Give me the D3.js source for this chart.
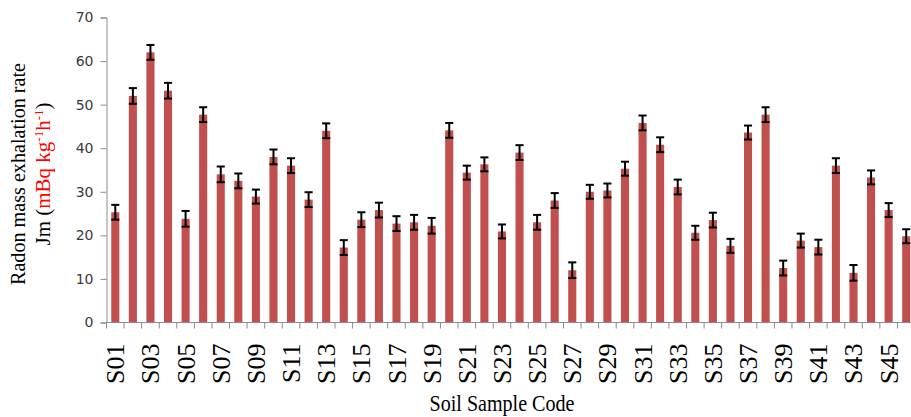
<!DOCTYPE html>
<html>
<head>
<meta charset="utf-8">
<script src="https://cdn.jsdelivr.net/npm/d3@7"></script>
<style>
  html, body { margin: 0; padding: 0; background: #fff; }
  svg { display: block; }
</style>
</head>
<body>
<svg id="chart" width="911" height="417"></svg>
<script>
// Soil sample codes S01..S46
const samples = ["S01","S02","S03","S04","S05","S06","S07","S08","S09","S10",
  "S11","S12","S13","S14","S15","S16","S17","S18","S19","S20",
  "S21","S22","S23","S24","S25","S26","S27","S28","S29","S30",
  "S31","S32","S33","S34","S35","S36","S37","S38","S39","S40",
  "S41","S42","S43","S44","S45","S46"];

// Radon mass exhalation rate Jm (mBq kg-1 h-1)
const exhalation = [25.3, 52.0, 62.0, 53.2, 23.8, 47.7, 34.0, 32.5, 28.9, 38.0,
  36.0, 28.2, 44.0, 17.2, 23.6, 25.8, 22.7, 23.0, 22.2, 44.1,
  34.4, 36.3, 20.9, 39.0, 23.0, 28.0, 12.0, 30.0, 30.3, 35.3,
  45.8, 40.8, 31.1, 20.6, 23.5, 17.6, 43.6, 47.7, 12.5, 18.8,
  17.3, 36.0, 11.4, 33.3, 25.8, 19.8];

// Measurement uncertainty (±)
const uncertainty = [1.7, 1.8, 1.7, 1.8, 1.8, 1.7, 1.8, 1.7, 1.6, 1.7,
  1.7, 1.7, 1.7, 1.7, 1.7, 1.7, 1.7, 1.7, 1.8, 1.7,
  1.6, 1.6, 1.6, 1.7, 1.7, 1.7, 1.8, 1.6, 1.6, 1.6,
  1.7, 1.7, 1.7, 1.6, 1.7, 1.6, 1.6, 1.7, 1.7, 1.6,
  1.7, 1.7, 1.8, 1.6, 1.6, 1.6];

const yTicks = [0, 10, 20, 30, 40, 50, 60, 70];

const svg = d3.select("#chart");
const margin = { left: 106.5, top: 17.5 };
const plotW = 808.5, plotH = 305;

const x = d3.scaleBand().domain(samples).range([margin.left, margin.left + plotW])
  .paddingInner(0.54).paddingOuter(0.27);
const y = d3.scaleLinear().domain([0, 70]).range([margin.top + plotH, margin.top]);

// bars
svg.selectAll("rect.bar").data(samples).join("rect")
  .attr("class", "bar")
  .attr("x", d => x(d))
  .attr("width", x.bandwidth())
  .attr("y", (d, i) => y(exhalation[i]))
  .attr("height", (d, i) => y(0) - y(exhalation[i]))
  .attr("fill", "#c0504d");

// error bars
const eb = svg.selectAll("g.err").data(samples).join("g").attr("class", "err")
  .attr("stroke", "#000").attr("stroke-width", 2);
eb.append("line")
  .attr("x1", d => x(d) + x.bandwidth() / 2).attr("x2", d => x(d) + x.bandwidth() / 2)
  .attr("y1", (d, i) => y(exhalation[i] + uncertainty[i]))
  .attr("y2", (d, i) => y(exhalation[i] - uncertainty[i]));
[1, -1].forEach(s => {
  eb.append("line")
    .attr("x1", d => x(d)).attr("x2", d => x(d) + x.bandwidth())
    .attr("y1", (d, i) => y(exhalation[i] + s * uncertainty[i]))
    .attr("y2", (d, i) => y(exhalation[i] + s * uncertainty[i]));
});

// y axis
const yAxis = svg.append("g").attr("transform", `translate(${margin.left},0)`)
  .call(d3.axisLeft(y).tickValues(yTicks).tickSize(6).tickPadding(7));
yAxis.select(".domain").attr("stroke", "#8c8c8c");
yAxis.selectAll(".tick line").attr("stroke", "#8c8c8c");
yAxis.selectAll(".tick text")
  .attr("font-family", "'DejaVu Sans', Verdana, sans-serif")
  .attr("font-size", 14).attr("fill", "#3a3a3a");

// x axis line and boundary ticks
const base = y(0);
svg.append("line").attr("x1", margin.left).attr("x2", margin.left + plotW)
  .attr("y1", base).attr("y2", base).attr("stroke", "#8c8c8c");
const step = x.step();
const x0 = x(samples[0]) - x.paddingOuter() * step;
svg.selectAll("line.tk").data(d3.range(samples.length + 1)).join("line")
  .attr("class", "tk")
  .attr("x1", i => x0 + i * step).attr("x2", i => x0 + i * step)
  .attr("y1", base).attr("y2", base + 6).attr("stroke", "#8c8c8c");

// vertical sample labels on every other category, reading bottom to top
svg.selectAll("text.lbl").data(samples.filter((d, i) => i % 2 === 0)).join("text")
  .attr("class", "lbl")
  .attr("x", d => x(d) + x.bandwidth() / 2 + 9)
  .attr("y", base + 21)
  .attr("transform", d => `rotate(-90 ${x(d) + x.bandwidth() / 2 + 9} ${base + 21})`)
  .attr("text-anchor", "end")
  .attr("font-family", "'Liberation Serif', 'Times New Roman', serif")
  .attr("font-size", 26)
  .attr("fill", "#000")
  .text(d => d);

// axis titles
svg.append("text")
  .attr("x", 502).attr("y", 411)
  .attr("text-anchor", "middle")
  .attr("font-family", "'Liberation Serif', 'Times New Roman', serif")
  .attr("font-size", 23)
  .attr("textLength", 145).attr("lengthAdjust", "spacingAndGlyphs")
  .text("Soil Sample Code");

const yt = svg.append("g").attr("transform", "translate(0,174) rotate(-90)")
  .attr("font-family", "'Liberation Serif', 'Times New Roman', serif");
yt.append("text").attr("x", 0).attr("y", 25)
  .attr("text-anchor", "middle").attr("font-size", 21)
  .attr("textLength", 222).attr("lengthAdjust", "spacingAndGlyphs")
  .text("Radon mass exhalation rate");
const l2 = yt.append("text").attr("x", 0).attr("y", 50)
  .attr("text-anchor", "middle").attr("font-size", 21);
l2.append("tspan").text("Jm (");
const red = l2.append("tspan").attr("fill", "#ff0000");
red.append("tspan").text("mBq kg");
red.append("tspan").attr("dy", -7).attr("font-size", 13).text("-1");
red.append("tspan").attr("dy", 7).text("h");
red.append("tspan").attr("dy", -7).attr("font-size", 13).text("-1");
l2.append("tspan").attr("dy", 7).text(")");
</script>
</body>
</html>
